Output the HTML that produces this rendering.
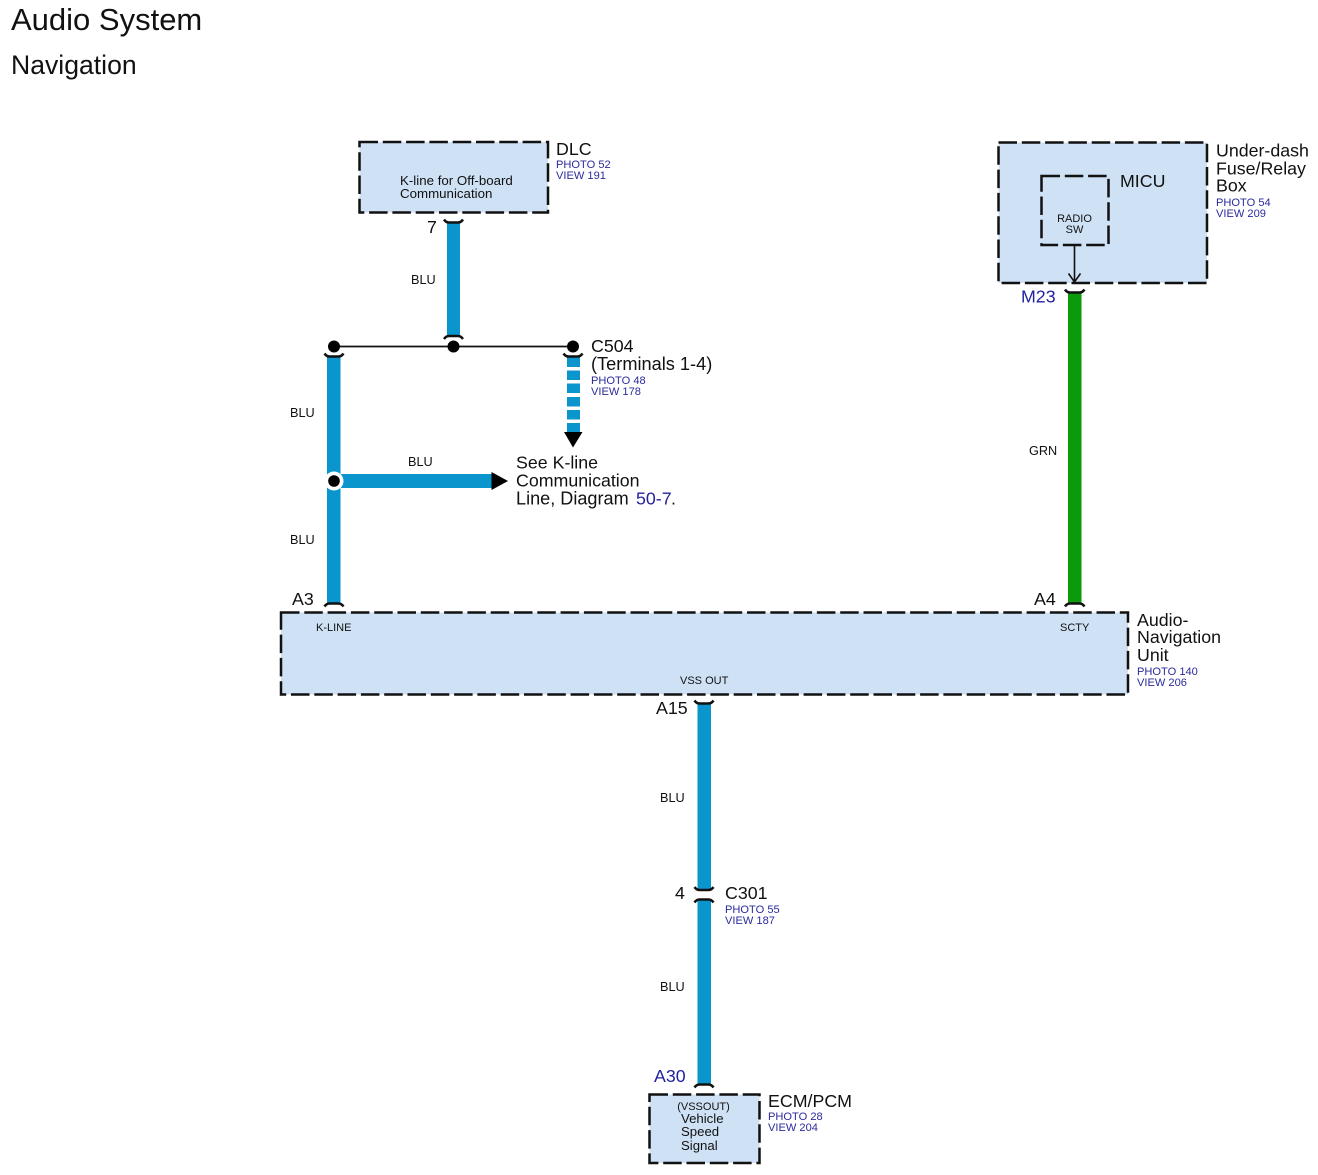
<!DOCTYPE html>
<html><head><meta charset="utf-8"><style>
html,body{margin:0;padding:0;background:#fff}
svg{display:block}
text{font-family:"Liberation Sans",sans-serif;fill:#111}
.t{font-size:17.8px}
.s{font-size:12.7px}
.b{font-size:11.1px;fill:#2b2b9e}
.bl{font-size:17.8px;fill:#2222a0}
.box{fill:#cfe1f5;stroke:#111;stroke-width:2.5;stroke-dasharray:18.5 4.8}
.w{fill:#0a96cc}
.c{fill:none;stroke:#111;stroke-width:2.5}
</style></head><body>
<svg width="1318" height="1175" viewBox="0 0 1318 1175" xmlns="http://www.w3.org/2000/svg">
<text x="11" y="30" font-size="31">Audio System</text>
<text x="11" y="74" font-size="26.6">Navigation</text>

<!-- boxes -->
<rect class="box" x="359.500" y="142" width="188.500" height="70.500"/>
<rect class="box" x="998.500" y="142.500" width="208.500" height="140.500"/>
<rect class="box" x="1041.500" y="176" width="67" height="69"/>
<rect class="box" x="281" y="612.500" width="847" height="82"/>
<rect class="box" x="649.500" y="1094.500" width="110" height="68.500"/>

<!-- wires -->
<rect class="w" x="447" y="222" width="13" height="114"/>
<rect class="w" x="327" y="356" width="13.500" height="248"/>
<rect class="w" x="340" y="474" width="152" height="14"/>
<rect class="w" x="697.500" y="703" width="13.500" height="187"/>
<rect class="w" x="697.500" y="900" width="13.500" height="185"/>
<rect x="1068" y="292" width="13.500" height="312" fill="#0a9a0a"/>
<!-- dashed wire -->
<g class="w">
<rect x="567" y="357" width="13" height="10"/>
<rect x="567" y="370.500" width="13" height="9.500"/>
<rect x="567" y="383.500" width="13" height="9.500"/>
<rect x="567" y="397" width="13" height="9.500"/>
<rect x="567" y="410" width="13" height="9.500"/>
<rect x="567" y="423" width="13" height="9"/>
</g>
<polygon points="564,432 582.500,432 573,447.500" fill="#000"/>
<polygon points="491.500,472 491.500,490 508,481" fill="#000"/>

<!-- bus -->
<line x1="334" y1="346.500" x2="573" y2="346.500" stroke="#111" stroke-width="1.8"/>
<circle cx="334" cy="346.500" r="6" fill="#000"/>
<circle cx="453.500" cy="346.500" r="6" fill="#000"/>
<circle cx="573" cy="346.500" r="6" fill="#000"/>
<circle cx="334" cy="481" r="9.500" fill="#fff"/>
<circle cx="334" cy="481" r="5.800" fill="#000"/>

<!-- connector arcs -->
<path class="c" d="M444,219.500 Q446,222.500 449,222.500 H458 Q461,222.500 463,219.500"/>
<path class="c" d="M444,339 Q446,336 449,336 H458 Q461,336 463,339"/>
<path class="c" d="M324.500,353.500 Q326.500,356.500 329.500,356.500 H338.500 Q341.500,356.500 343.500,353.500"/>
<path class="c" d="M563.500,353.500 Q565.500,356.500 568.500,356.500 H577.500 Q580.500,356.500 582.500,353.500"/>
<path class="c" d="M324.500,606.500 Q326.500,603.500 329.500,603.500 H338.500 Q341.500,603.500 343.500,606.500"/>
<path class="c" d="M1065,606.500 Q1067,603.500 1070,603.500 H1079.500 Q1082.500,603.500 1084.500,606.500"/>
<path class="c" d="M1065,289.500 Q1067,292.500 1070,292.500 H1079.500 Q1082.500,292.500 1084.500,289.500"/>
<path class="c" d="M694.500,700.500 Q696.500,703.500 699.500,703.500 H708.500 Q711.500,703.500 713.500,700.500"/>
<path class="c" d="M694.500,887 Q696.500,890 699.500,890 H708.500 Q711.500,890 713.500,887"/>
<path class="c" d="M694.500,902.500 Q696.500,899.500 699.500,899.500 H708.500 Q711.500,899.500 713.500,902.500"/>
<path class="c" d="M694.500,1087.500 Q696.500,1084.500 699.500,1084.500 H708.500 Q711.500,1084.500 713.500,1087.500"/>

<!-- radio arrow -->
<line x1="1074.500" y1="245" x2="1074.500" y2="282" stroke="#111" stroke-width="1.6"/>
<path d="M1068.500,273.500 L1074.500,282 L1080.500,273.500" fill="none" stroke="#111" stroke-width="1.6"/>

<!-- labels -->
<text class="t" x="556" y="155">DLC</text>
<text class="b" x="556" y="168">PHOTO 52</text>
<text class="b" x="556" y="179">VIEW 191</text>
<text x="400" y="185" font-size="13.3">K-line for Off-board</text>
<text x="400" y="198" font-size="13.3">Communication</text>
<text class="t" x="427" y="233">7</text>
<text class="s" x="411" y="284">BLU</text>
<text class="t" x="591" y="352">C504</text>
<text x="591" y="370" font-size="18.2">(Terminals 1-4)</text>
<text class="b" x="591" y="384">PHOTO 48</text>
<text class="b" x="591" y="395">VIEW 178</text>
<text class="s" x="290" y="417">BLU</text>
<text class="s" x="408" y="466">BLU</text>
<text class="s" x="290" y="544">BLU</text>
<text class="t" x="516" y="468.500">See K-line</text>
<text class="t" x="516" y="486.500">Communication</text>
<text x="516" y="504.500" font-size="18.1">Line, Diagram</text>
<text class="bl" x="636" y="504.500">50-7</text>
<text class="t" x="671" y="504.500">.</text>

<text class="t" x="1216" y="156.500">Under-dash</text>
<text class="t" x="1216" y="174.500">Fuse/Relay</text>
<text class="t" x="1216" y="191.500">Box</text>
<text class="b" x="1216" y="206">PHOTO 54</text>
<text class="b" x="1216" y="217">VIEW 209</text>
<text class="t" x="1120" y="187">MICU</text>
<text x="1074.500" y="222" font-size="11" text-anchor="middle">RADIO</text>
<text x="1074.500" y="233" font-size="11" text-anchor="middle">SW</text>
<text class="bl" x="1021" y="302.500">M23</text>
<text class="s" x="1029" y="455">GRN</text>

<text class="t" x="292" y="605">A3</text>
<text class="t" x="1034" y="605">A4</text>
<text x="316" y="631" font-size="11">K-LINE</text>
<text x="1060" y="631" font-size="11">SCTY</text>
<text x="680" y="684" font-size="11">VSS OUT</text>
<text class="t" x="1137" y="626">Audio-</text>
<text class="t" x="1137" y="643">Navigation</text>
<text class="t" x="1137" y="661">Unit</text>
<text class="b" x="1137" y="675">PHOTO 140</text>
<text class="b" x="1137" y="686">VIEW 206</text>

<text class="t" x="656" y="714">A15</text>
<text class="s" x="660" y="802">BLU</text>
<text class="t" x="675" y="899">4</text>
<text class="t" x="725" y="899">C301</text>
<text class="b" x="725" y="913">PHOTO 55</text>
<text class="b" x="725" y="924">VIEW 187</text>
<text class="s" x="660" y="991">BLU</text>
<text class="bl" x="654" y="1082">A30</text>
<text class="t" x="768" y="1107">ECM/PCM</text>
<text class="b" x="768" y="1120">PHOTO 28</text>
<text class="b" x="768" y="1131">VIEW 204</text>
<text x="703.500" y="1110" font-size="11" text-anchor="middle">(VSSOUT)</text>
<text x="681" y="1123" font-size="13.2">Vehicle</text>
<text x="681" y="1136" font-size="13.2">Speed</text>
<text x="681" y="1150" font-size="13.2">Signal</text>
</svg>
</body></html>
